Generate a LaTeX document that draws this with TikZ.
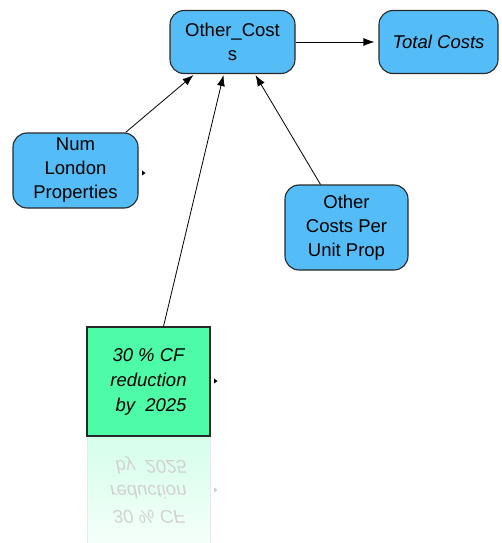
\documentclass[tikz,border=0pt]{standalone}
\usepackage{fontspec}
\setmainfont{Liberation Sans}
\usetikzlibrary{arrows.meta,calc}
\definecolor{varblue}{RGB}{84,188,246}
\definecolor{srcgreen}{RGB}{78,252,168}
\definecolor{edgegray}{RGB}{40,40,40}
\tikzset{
  varbox/.style={draw=edgegray, line width=1.1pt, fill=varblue, rounded corners=14pt,
    inner sep=0pt, align=center, font=\fontsize{18.5}{24}\selectfont},
  srcbox/.style={draw=edgegray, line width=1.1pt, fill=srcgreen, inner sep=0pt,
    align=center, font=\fontsize{18.5}{25}\selectfont\itshape},
  link/.style={draw=black, line width=0.8pt, -{Latex[length=11pt,width=8pt]}},
  marker/.style={fill=black, draw=none}
}
\begin{document}
\begin{tikzpicture}[x=1pt,y=-1pt]
\useasboundingbox (0,0) rectangle (501,543);

% model variables
\node[varbox, minimum width=125pt, minimum height=63pt] (oc) at (232.5,42) {Other\_Cost\\s};
\node[varbox, minimum width=119pt, minimum height=63pt] (tc) at (438.5,42) {\itshape Total Costs};
\node[varbox, minimum width=125pt, minimum height=75pt] (nlp) at (75.5,170.5) {Num\\London\\Properties};
\node[varbox, minimum width=123pt, minimum height=85pt] (ocpu) at (346.5,227.5) {Other\\Costs Per\\Unit Prop};

% reflection of the source box (drawn first, below it)
\shade[top color=srcgreen!24, bottom color=srcgreen!6, draw=none] (87,436) rectangle (210,543);
\draw[black!8, line width=0.8pt] (87,436) -- (87,543) (210,436) -- (210,543);
\begin{scope}[shift={(0,872)}, yscale=-1]
  \node[srcbox, draw=none, fill=none, text=black!18, transform shape,
        minimum width=123pt, minimum height=109pt] (cfr) at (148.5,381.5)
        {30 \% CF\\reduction\\\ by\ \ 2025};
\end{scope}
\fill[black!20] (214,487.5) -- (217.5,490) -- (214,492.5) -- cycle;

% source box
\node[srcbox, minimum width=123pt, minimum height=109pt] (cf) at (148.5,381.5)
  {30 \% CF\\reduction\\\ by\ \ 2025};

% connectors
\draw[link, shorten >=4pt] (oc.east) -- (tc.west);
\draw[link] ([xshift=-13pt]nlp.north east) -- ([xshift=-39pt,yshift=-1pt]oc.south);
\draw[link] ([xshift=15pt]cf.north) -- ([xshift=-9pt,yshift=-1pt]oc.south);
\draw[link] ([xshift=-26pt]ocpu.north) -- ([xshift=23pt,yshift=-1pt]oc.south);

% small output markers
\fill[marker] (142,170.5) -- (145.5,173) -- (142,175.5) -- cycle;
\fill[marker] (214,378.5) -- (217.5,381) -- (214,383.5) -- cycle;
\end{tikzpicture}
\end{document}
